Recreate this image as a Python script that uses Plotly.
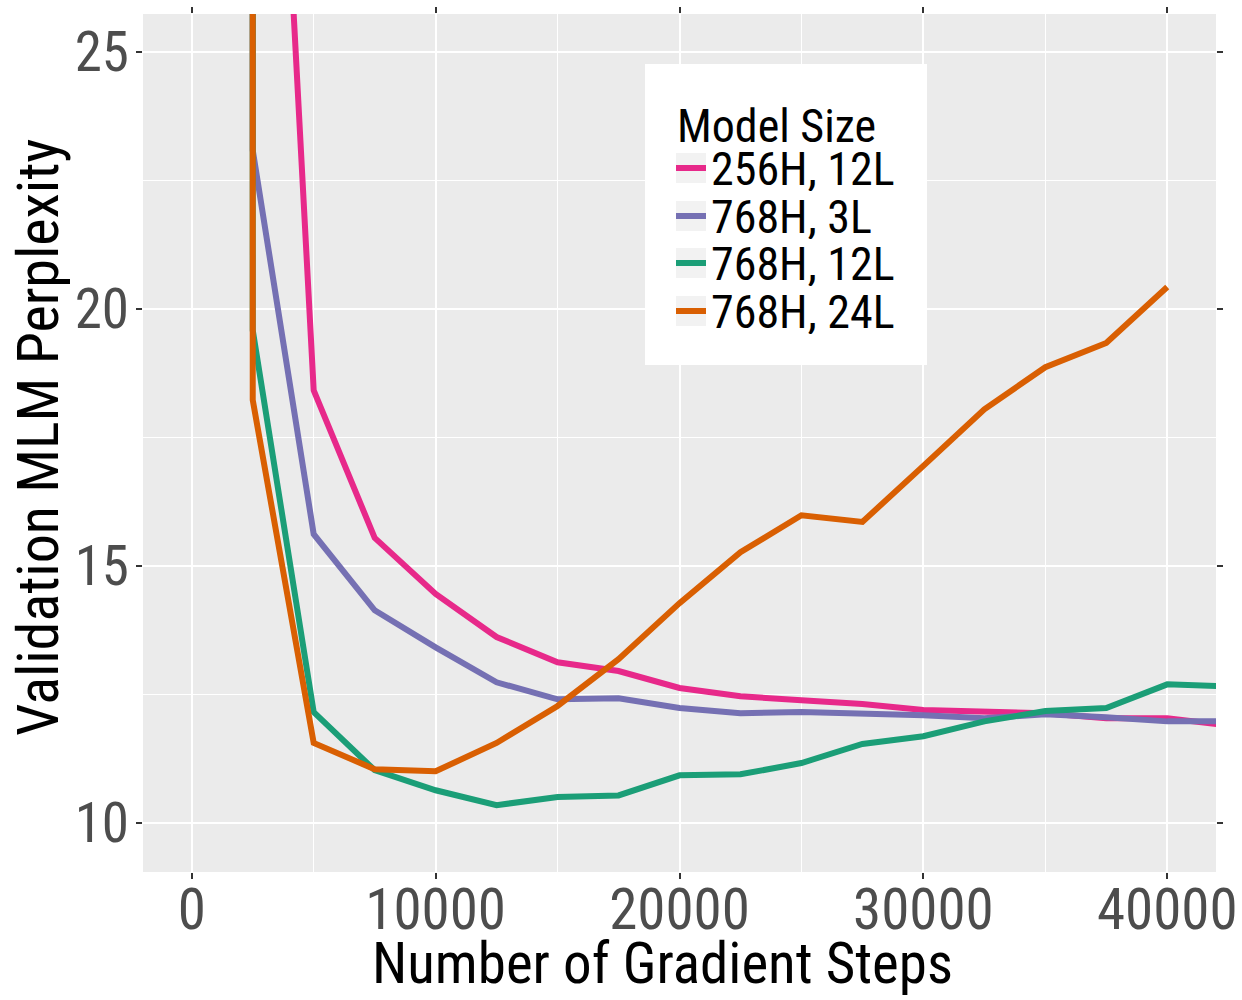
import plotly.graph_objects as go

# Validation MLM perplexity over training, per model size
steps = [0, 2500, 5000, 7500, 10000, 12500, 15000, 17500, 20000,
         22500, 25000, 27500, 30000, 32500, 35000, 37500, 40000, 42500]

ppl_256h_12l = [30000, 40.7, 18.42, 15.55, 14.46, 13.62, 13.13, 12.96, 12.63,
                12.47, 12.39, 12.32, 12.20, 12.16, 12.14, 12.04, 12.04, 11.90]
ppl_768h_3l = [30000, 23.09, 15.62, 14.14, 13.42, 12.74, 12.41, 12.43, 12.24,
               12.14, 12.16, 12.14, 12.10, 12.04, 12.12, 12.06, 11.98, 11.98]
ppl_768h_12l = [30000, 19.59, 12.16, 11.03, 10.64, 10.35, 10.51, 10.54, 10.93,
                10.95, 11.17, 11.54, 11.69, 11.98, 12.18, 12.24, 12.70, 12.66]
ppl_768h_24l = [30000, 18.23, 11.56, 11.05, 11.01, 11.56, 12.28, 13.19, 14.28,
                15.27, 15.99, 15.86, 16.95, 18.05, 18.87, 19.34, 20.43, None]

model_names = ["256H, 12L", "768H, 3L", "768H, 12L", "768H, 24L"]
model_values = [ppl_256h_12l, ppl_768h_3l, ppl_768h_12l, ppl_768h_24l]
model_colors = ["#E7298A", "#7570B3", "#1B9E77", "#D95F02"]

x_ticks = [0, 10000, 20000, 30000, 40000]
y_ticks = [10, 15, 20, 25]

x_title = "Number of Gradient Steps"
y_title = "Validation MLM Perplexity"

FONT = "Liberation Sans Narrow, Roboto Condensed, Roboto, sans-serif"

W, H = 1242, 1000
M_L, M_R, M_T, M_B = 143, 26, 14, 128
PW, PH = W - M_L - M_R, H - M_T - M_B


def px_x(px):
    return (px - M_L) / PW


def px_y(py):
    return (H - M_B - py) / PH


fig = go.Figure()
for name, vals, color in zip(model_names, model_values, model_colors):
    fig.add_trace(go.Scatter(
        x=steps, y=vals, name=name, mode="lines",
        line=dict(color=color, width=6),
        connectgaps=False, showlegend=False,
    ))

# Legend panel drawn in paper space (ggplot-style keys)
shapes = [dict(type="rect", xref="paper", yref="paper",
               x0=px_x(645), x1=px_x(927), y0=px_y(365), y1=px_y(64),
               fillcolor="white", line=dict(width=0), layer="above")]
annotations = [dict(text="Model Size", xref="paper", yref="paper",
                    x=px_x(675), y=px_y(126), xanchor="left", yanchor="middle",
                    height=44, showarrow=False,
                    font=dict(size=46, color="black", family=FONT))]
row_centers = [168, 216, 263, 311]
for name, color, cy in zip(model_names, model_colors, row_centers):
    shapes.append(dict(type="rect", xref="paper", yref="paper",
                       x0=px_x(676), x1=px_x(706), y0=px_y(cy + 15), y1=px_y(cy - 15),
                       fillcolor="#F2F2F2", line=dict(width=0), layer="above"))
    shapes.append(dict(type="line", xref="paper", yref="paper",
                       x0=px_x(676), x1=px_x(706), y0=px_y(cy), y1=px_y(cy),
                       line=dict(color=color, width=6), layer="above"))
    annotations.append(dict(text=name, xref="paper", yref="paper",
                            x=px_x(709), y=px_y(cy + 1), xanchor="left", yanchor="middle",
                            height=44, showarrow=False,
                            font=dict(size=46, color="black", family=FONT)))

# Axis titles
annotations.append(dict(text=x_title, xref="paper", yref="paper",
                        x=px_x(662), y=px_y(964), xanchor="center", yanchor="middle",
                        showarrow=False, font=dict(size=57, color="black", family=FONT)))
annotations.append(dict(text=y_title, xref="paper", yref="paper",
                        x=px_x(38), y=px_y(437), xanchor="center", yanchor="middle",
                        textangle=-90, showarrow=False,
                        font=dict(size=58, color="black", family=FONT)))

fig.update_layout(
    width=W, height=H,
    margin=dict(l=M_L, r=M_R, t=M_T, b=M_B, autoexpand=False),
    paper_bgcolor="white",
    plot_bgcolor="#EBEBEB",
    font=dict(family=FONT, color="black"),
    showlegend=False,
    shapes=shapes,
    annotations=annotations,
)

fig.update_xaxes(
    range=[-2000, 42000],
    tickmode="array", tickvals=x_ticks, ticktext=[str(v) for v in x_ticks],
    showgrid=True, gridcolor="white", gridwidth=2,
    minor=dict(showgrid=True, gridcolor="white", gridwidth=1, dtick=5000, tick0=0),
    zeroline=False, showline=False, automargin=False,
    ticks="outside", ticklen=6, tickwidth=2, tickcolor="#333333",
    mirror="ticks", ticklabelstandoff=-18,
    tickfont=dict(size=57, color="#4D4D4D", family=FONT),
)
fig.update_yaxes(
    range=[9.05, 25.74],
    tickmode="array", tickvals=y_ticks, ticktext=[str(v) for v in y_ticks],
    showgrid=True, gridcolor="white", gridwidth=2,
    minor=dict(showgrid=True, gridcolor="white", gridwidth=1, dtick=2.5, tick0=0),
    zeroline=False, showline=False, automargin=False,
    ticks="outside", ticklen=6, tickwidth=2, tickcolor="#333333",
    mirror="ticks", ticklabelstandoff=-4,
    tickfont=dict(size=55, color="#4D4D4D", family=FONT),
)

fig.write_html("out.html")
